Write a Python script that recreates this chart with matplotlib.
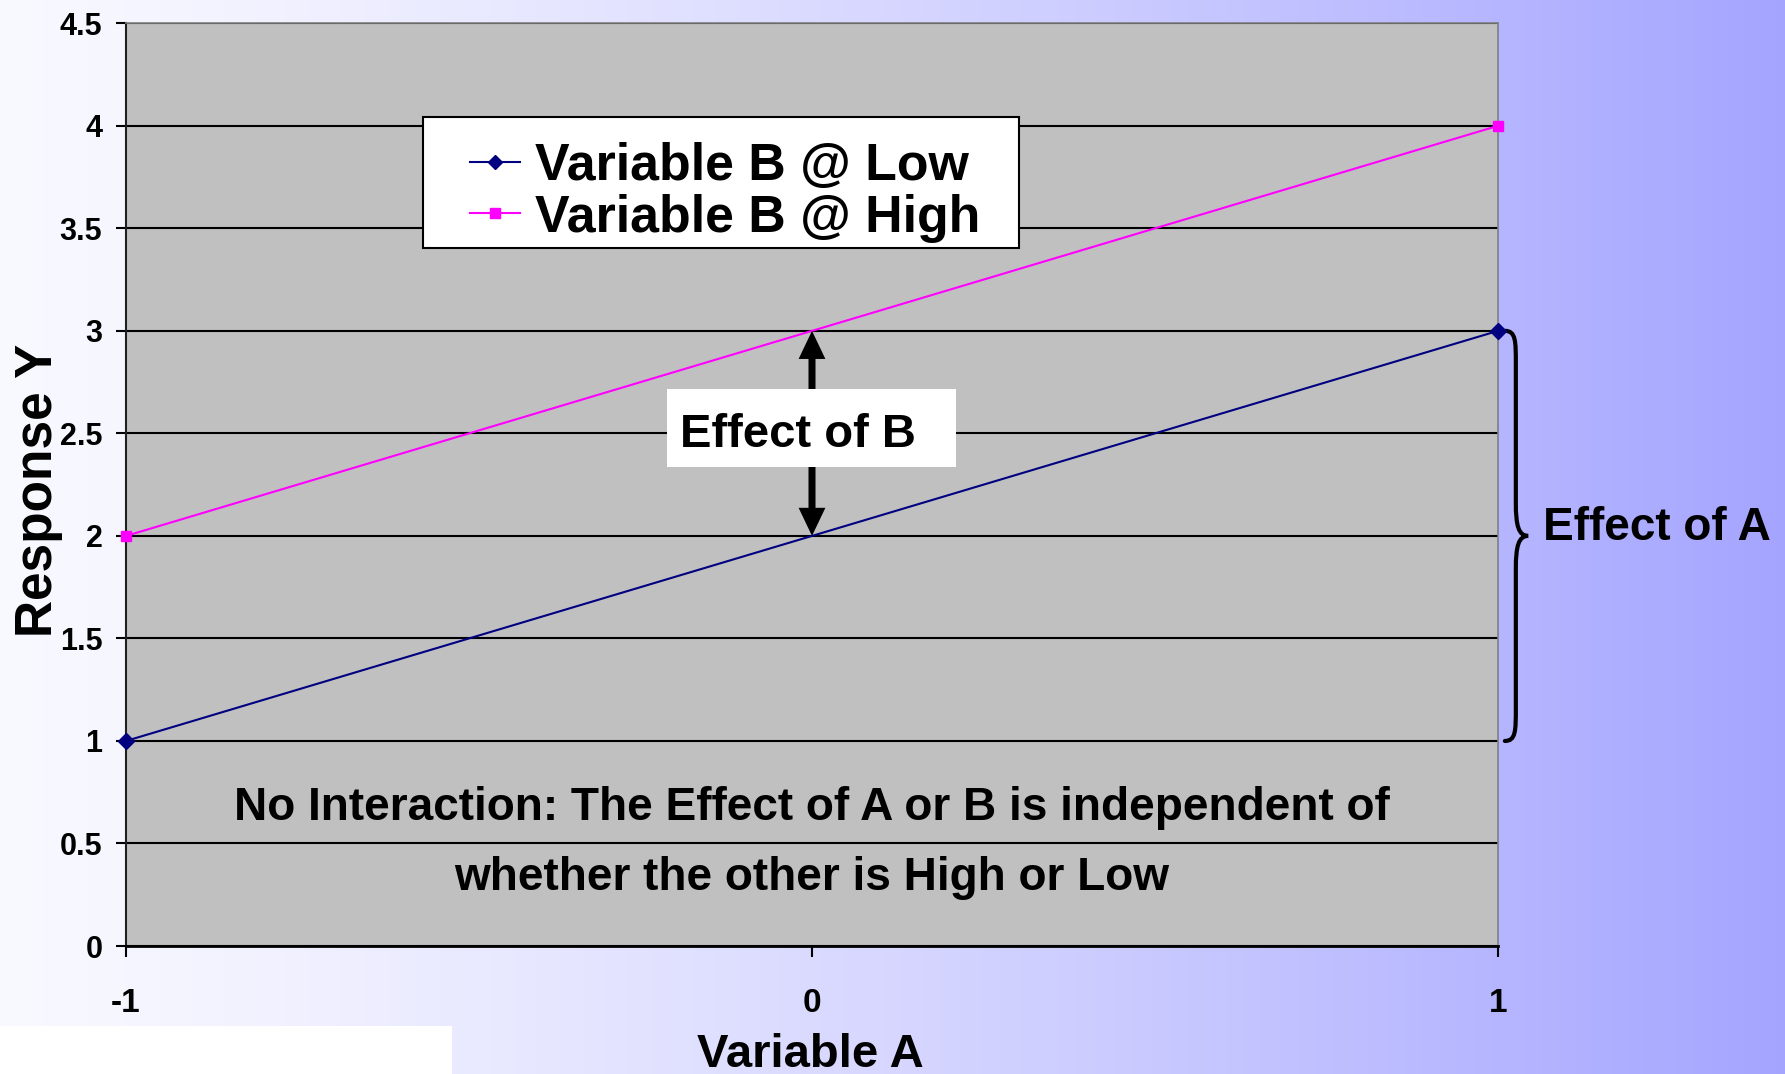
import numpy as np
import matplotlib
matplotlib.use("Agg")
import matplotlib.pyplot as plt
from matplotlib import font_manager as fm
from matplotlib.patches import Rectangle, PathPatch
from matplotlib.path import Path
from matplotlib.lines import Line2D

# data
var_a = [-1, 1]
b_low = [1, 3]
b_high = [2, 4]
series_names = ["Variable B @ Low", "Variable B @ High"]
x_ticks = [-1, 0, 1]
x_tick_labels = ["-1", "0", "1"]
y_ticks = [0, 0.5, 1, 1.5, 2, 2.5, 3, 3.5, 4, 4.5]
y_tick_labels = ["0", "0.5", "1", "1.5", "2", "2.5", "3", "3.5", "4", "4.5"]
note_lines = ["No Interaction: The Effect of A or B is independent of",
              "whether the other is High or Low"]

W, H = 1785, 1074


def fx(px):
    return px / W


def fy(py):
    return 1 - py / H


# condensed font for the big labels, if present
try:
    fm.findfont(fm.FontProperties(family="Liberation Sans Narrow", weight="bold"),
                fallback_to_default=False)
    NARROW = "Liberation Sans Narrow"
    k = 1.0
except Exception:
    NARROW = "Liberation Sans"
    k = 0.85
BOLD = "Liberation Sans"

fig = plt.figure(figsize=(W / 100, H / 100), dpi=100)

# gradient background
bg = fig.add_axes([0, 0, 1, 1], zorder=-10)
t = np.linspace(0, 1, 600) ** 1.3
c0, c1 = np.array([0.975, 0.975, 1.0]), np.array([0.645, 0.645, 1.0])
grad = c0[None, :] * (1 - t[:, None]) + c1[None, :] * t[:, None]
bg.imshow(grad[None, :, :], aspect="auto", extent=[0, 1, 0, 1])
bg.axis("off")
fig.add_artist(Rectangle((0, 0), fx(452), fy(1026), transform=fig.transFigure,
                         facecolor="white", edgecolor="none", zorder=-5))

ax = fig.add_axes([fx(126), fy(946), fx(1498) - fx(126), fy(23.3) - fy(946)])
ax.set_facecolor("#C0C0C0")
ax.set_xlim(-1, 1)
ax.set_ylim(0, 4.5)
ax.set_axisbelow(True)
ax.yaxis.grid(True, color="black", lw=1.5)

ax.plot(var_a, b_low, color="#000080", lw=1.5, marker="D", ms=8, clip_on=False, zorder=4)
ax.plot(var_a, b_high, color="#FF00FF", lw=1.5, marker="s", ms=7, clip_on=False, zorder=4)

ax.set_xticks(x_ticks)
ax.set_xticklabels(x_tick_labels, fontsize=24, fontweight="bold", family=BOLD)
ax.set_yticks(y_ticks)
ax.set_yticklabels(y_tick_labels, fontsize=22, fontweight="bold", family=BOLD)
ax.tick_params(axis="y", direction="out", length=7, width=1.5, pad=10)
ax.tick_params(axis="x", direction="out", length=8, width=1.5, pad=22)
for s in ["top", "right"]:
    ax.spines[s].set_color("#808080")
    ax.spines[s].set_linewidth(1.2)
ax.spines["left"].set_color("#202020")
ax.spines["left"].set_linewidth(1.5)
ax.spines["bottom"].set_linewidth(2)

fig.text(fx(39), fy(490), "Response Y", rotation=90, ha="center", va="center",
         fontsize=37, fontweight="bold", family=BOLD)
fig.text(fx(810), fy(1067), "Variable A", ha="center", va="baseline",
         fontsize=34, fontweight="bold", family=BOLD)

# legend drawn by hand to match the box layout
fig.add_artist(Rectangle((fx(423), fy(248)), fx(1019) - fx(423), fy(117) - fy(248),
                         transform=fig.transFigure, facecolor="white",
                         edgecolor="black", lw=1.5, zorder=5))
leg_rows = [(162, 180, "#000080", "D", 7), (213, 232, "#FF00FF", "s", 7)]
for (ym, yb, col, mk, ms), name in zip(leg_rows, series_names):
    fig.add_artist(Line2D([fx(470), fx(495), fx(520)], [fy(ym)] * 3, color=col, lw=1.5,
                          marker=mk, ms=ms, markevery=[1], transform=fig.transFigure,
                          zorder=6))
    fig.text(fx(535), fy(yb), name, ha="left", va="baseline", fontsize=44 * k,
             fontweight="bold", family=NARROW, zorder=6)

# effect of B arrows between the two lines at A = 0
x0 = 0.0
lo = np.interp(x0, var_a, b_low)
hi = np.interp(x0, var_a, b_high)
mid = (lo + hi) / 2
for tip in (hi, lo):
    ax.arrow(x0, mid, 0, tip - mid, width=0.0102, head_width=0.039, head_length=0.137,
             length_includes_head=True, color="black", lw=0, zorder=5)
ax.add_patch(Rectangle((-0.211, 2.337), 0.421, 0.38, facecolor="white",
                       edgecolor="none", zorder=6))
ax.text(-0.192, 2.434, "Effect of B", ha="left", va="baseline", fontsize=40 * k,
        fontweight="bold", family=NARROW, zorder=7)

# brace for effect of A along the right edge
xe, xs, xt = 1.010, 1.026, 1.044
yt, yb = b_low[1], b_low[0]
ym = (yt + yb) / 2
r = 0.16
verts = [(xe, yt), (xs, yt), (xs, yt - 0.05), (xs, yt - r),
         (xs, ym + r),
         (xs, ym + 0.05), (xs + 0.004, ym), (xt, ym),
         (xs + 0.004, ym), (xs, ym - 0.05), (xs, ym - r),
         (xs, yb + r),
         (xs, yb + 0.05), (xs, yb), (xe, yb)]
codes = [Path.MOVETO, Path.CURVE4, Path.CURVE4, Path.CURVE4, Path.LINETO,
         Path.CURVE4, Path.CURVE4, Path.CURVE4, Path.CURVE4, Path.CURVE4, Path.CURVE4,
         Path.LINETO, Path.CURVE4, Path.CURVE4, Path.CURVE4]
ax.add_patch(PathPatch(Path(verts, codes), fill=False, lw=3, color="black",
                       clip_on=False, capstyle="round"))
ax.text(1.066, 1.98, "Effect of A", ha="left", va="baseline", fontsize=39 * k,
        fontweight="bold", family=NARROW, clip_on=False)

ax.text(0, 0.615, note_lines[0], ha="center", va="baseline", fontsize=39 * k,
        fontweight="bold", family=NARROW)
ax.text(0, 0.273, note_lines[1], ha="center", va="baseline", fontsize=39 * k,
        fontweight="bold", family=NARROW)

fig.savefig("out.png", dpi=100)
